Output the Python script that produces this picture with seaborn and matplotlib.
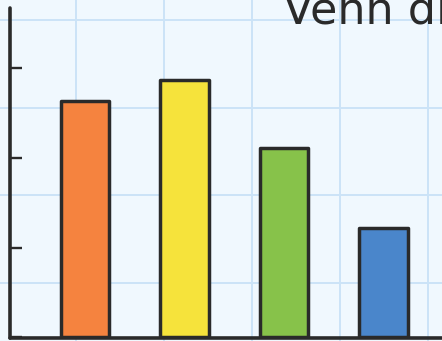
import matplotlib
matplotlib.use("Agg")
import matplotlib.pyplot as plt
import seaborn as sns
import pandas as pd

# Data
categories = ["A", "B", "C", "D"]
values = [26.4, 28.7, 21.1, 12.2]
bar_colors = ["#F5833F", "#F6E33B", "#87C24A", "#4A86CB"]
y_ticks = [0, 10, 20, 30]
title = "Venn diagram"

W, H = 442, 341
BG = "#F0F8FE"
INK = "#2A2A2A"

sns.set_theme(style="white")
plt.rcParams["font.family"] = ["DejaVu Sans"]

fig = plt.figure(figsize=(W / 100, H / 100), dpi=100)
fig.patch.set_facecolor(BG)

# graph-paper backdrop
bg = fig.add_axes([0, 0, 1, 1], zorder=0)
bg.set_xlim(0, W)
bg.set_ylim(H, 0)
bg.set_facecolor(BG)
bg.set_xticks([76, 164, 252, 340, 428])
bg.set_yticks([20, 107.5, 195, 283])
bg.grid(True, color="#CBE3F7", lw=1.4)
bg.tick_params(length=0, labelleft=False, labelbottom=False)
for s in bg.spines.values():
    s.set_visible(False)

# main plotting area (extends past the right edge)
left_px, right_px, top_px, bottom_px = 10, 560, 8, 338
ax = fig.add_axes([left_px / W, (H - bottom_px) / H,
                   (right_px - left_px) / W, (bottom_px - top_px) / H], zorder=1)
ax.patch.set_alpha(0)

df = pd.DataFrame({"category": categories, "value": values})
sns.barplot(data=df, x="category", y="value", hue="category", palette=bar_colors,
            legend=False, width=0.49, saturation=1, edgecolor=INK, linewidth=2.5, ax=ax)
for p in ax.patches:
    p.set_joinstyle("round")

step = 99.5
x0 = -(85 - left_px) / step
ax.set_xlim(x0, x0 + (right_px - left_px) / step)
unit = 8.95
y0 = -(bottom_px - 337) / unit
ax.set_ylim(y0, y0 + (bottom_px - top_px) / unit)
ax.set_yticks(y_ticks)

ax.tick_params(axis="y", direction="in", length=8.6, width=1.7, color=INK, labelleft=False, left=True)
ax.tick_params(axis="x", length=0, labelbottom=False)
ax.set_xlabel("")
ax.set_ylabel("")
for side in ("top", "right"):
    ax.spines[side].set_visible(False)
for side in ("left", "bottom"):
    ax.spines[side].set_color(INK)
    ax.spines[side].set_linewidth(2.6)
    ax.spines[side].set_capstyle("round")

fig.text(283 / W, (H - 24) / H, title, fontsize=32, color=INK, ha="left", va="baseline")

fig.savefig("out.png", dpi=100, facecolor=BG)
